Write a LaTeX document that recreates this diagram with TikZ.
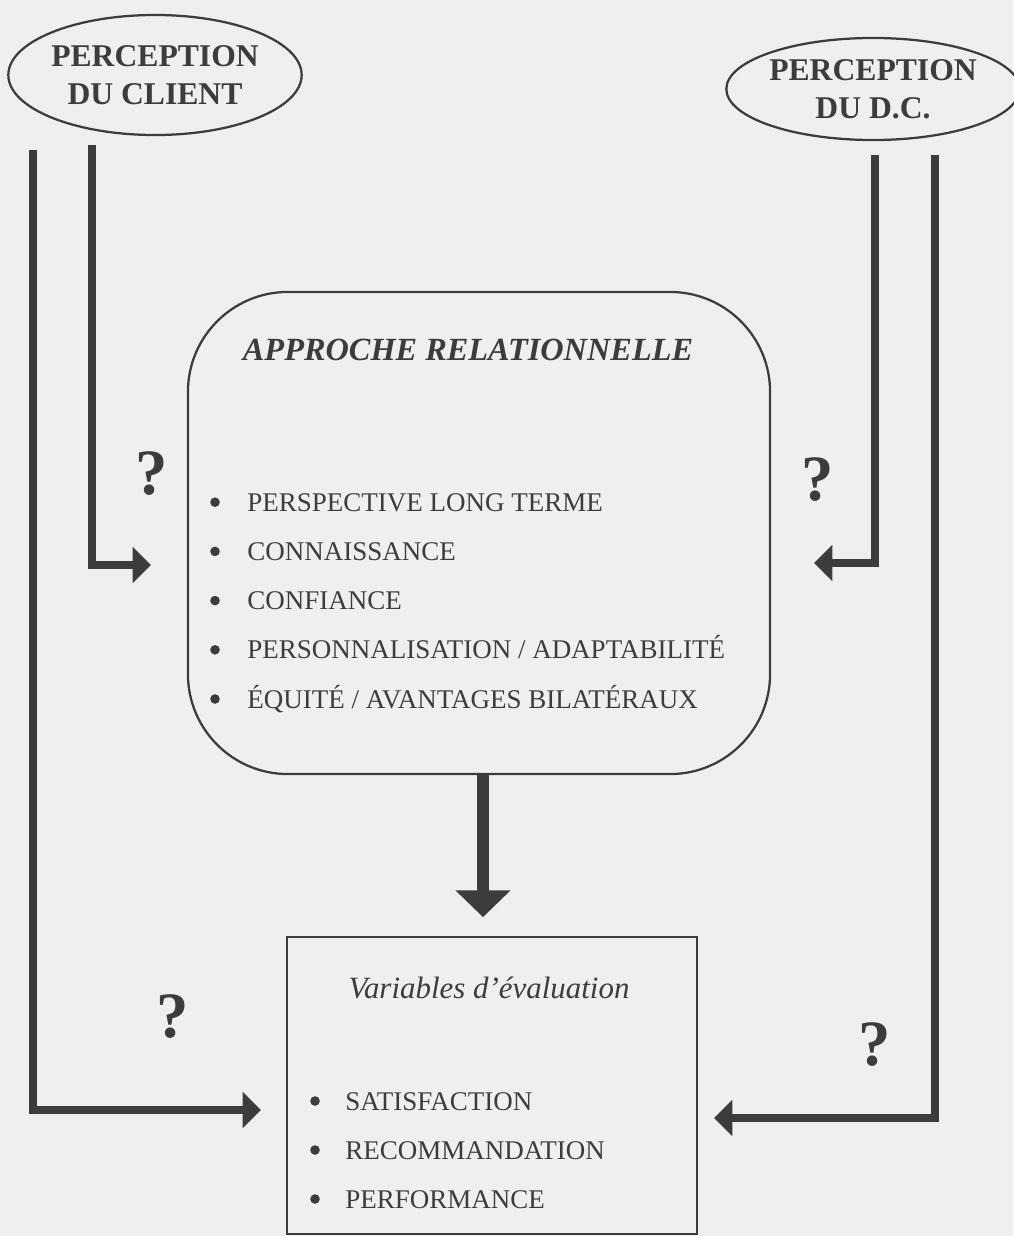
\documentclass[tikz,border=0pt]{standalone}
\usepackage{fontspec}
\setmainfont{Liberation Serif}
\usetikzlibrary{arrows.meta,shapes.geometric}

\definecolor{ink}{HTML}{3C3C3C}
\definecolor{paper}{HTML}{EFEFEF}

\tikzset{
  persp/.style={ellipse, draw=ink, line width=1.6pt, text=ink, align=center,
    inner sep=0pt, font=\bfseries\fontsize{22.5}{27}\selectfont},
  fleche/.style={draw=ink, line width=5.6pt, -{Triangle[length=13pt,width=25pt]}},
  item/.style={anchor=base west, text=ink, inner sep=0pt, font=\fontsize{19.2}{22}\selectfont},
  puce/.style={circle, fill=ink, inner sep=0pt, minimum size=0.24cm},
  quest/.style={text=ink, font=\bfseries\fontsize{46}{50}\selectfont}
}

\begin{document}
\begin{tikzpicture}[x=0.025cm, y=-0.025cm]
  \fill[paper] (0,0) rectangle (1013,1236);
  \useasboundingbox (0,0) rectangle (1013,1236);

  % perceptions
  \node[persp, minimum width=7.15cm, minimum height=3cm] (client) at (155,75) {PERCEPTION\\DU CLIENT};
  \node[persp, minimum width=6.9cm, minimum height=2.55cm] (dc) at (873,89) {PERCEPTION\\DU D.C.};

  % approche relationnelle
  \node[draw=ink, line width=1.6pt, rounded corners=2.5cm, minimum width=14.55cm,
    minimum height=12.05cm] (approche) at (479,533) {};
  \node[text=ink, font=\bfseries\itshape\fontsize{23}{27}\selectfont] (titreA) at (468,350) {APPROCHE RELATIONNELLE};
  \foreach \txt [count=\i] in {PERSPECTIVE LONG TERME, CONNAISSANCE, CONFIANCE,
      PERSONNALISATION / ADAPTABILITÉ, ÉQUITÉ / AVANTAGES BILATÉRAUX} {
    \node[puce] (pa\i) at (215,453+49.2*\i) {};
    \node[item] (ta\i) at (247,462+49.2*\i) {\txt};
  }

  % variables d'evaluation
  \node[draw=ink, line width=1.2pt, minimum width=10.25cm, minimum height=7.425cm] (evaluation) at (492,1085.5) {};
  \node[text=ink, font=\itshape\fontsize{22}{26}\selectfont] (titreV) at (489,988) {Variables d’évaluation};
  \foreach \txt [count=\i] in {SATISFACTION, RECOMMANDATION, PERFORMANCE} {
    \node[puce] (pv\i) at (315,1052+49*\i) {};
    \node[item] (tv\i) at (345,1061+49*\i) {\txt};
  }

  % liens
  \coordinate (gExt) at (33,150);
  \coordinate (gInt) at (92,145);
  \coordinate (dInt) at (875,155);
  \coordinate (dExt) at (935,155);
  \coordinate (gIntB) at (151,565);
  \coordinate (gExtB) at (261,1110);
  \coordinate (dIntB) at (814,563);
  \coordinate (dExtB) at (714,1118);

  \draw[fleche] (gInt) |- (gIntB);
  \draw[fleche] (gExt) |- (gExtB);
  \draw[fleche] (dInt) |- (dIntB);
  \draw[fleche] (dExt) |- (dExtB);
  \draw[draw=ink, line width=8.5pt, -{Triangle[length=19pt,width=38pt]}, shorten >=0.475cm]
    ([xshift=0.1cm]approche.south) -- ([xshift=0.1cm]approche.south |- evaluation.north);

  \node[quest] (q1) at (152,474) {?};
  \node[quest] (q2) at (818,480) {?};
  \node[quest] (q3) at (173,1017) {?};
  \node[quest] (q4) at (875,1045) {?};
\end{tikzpicture}
\end{document}
